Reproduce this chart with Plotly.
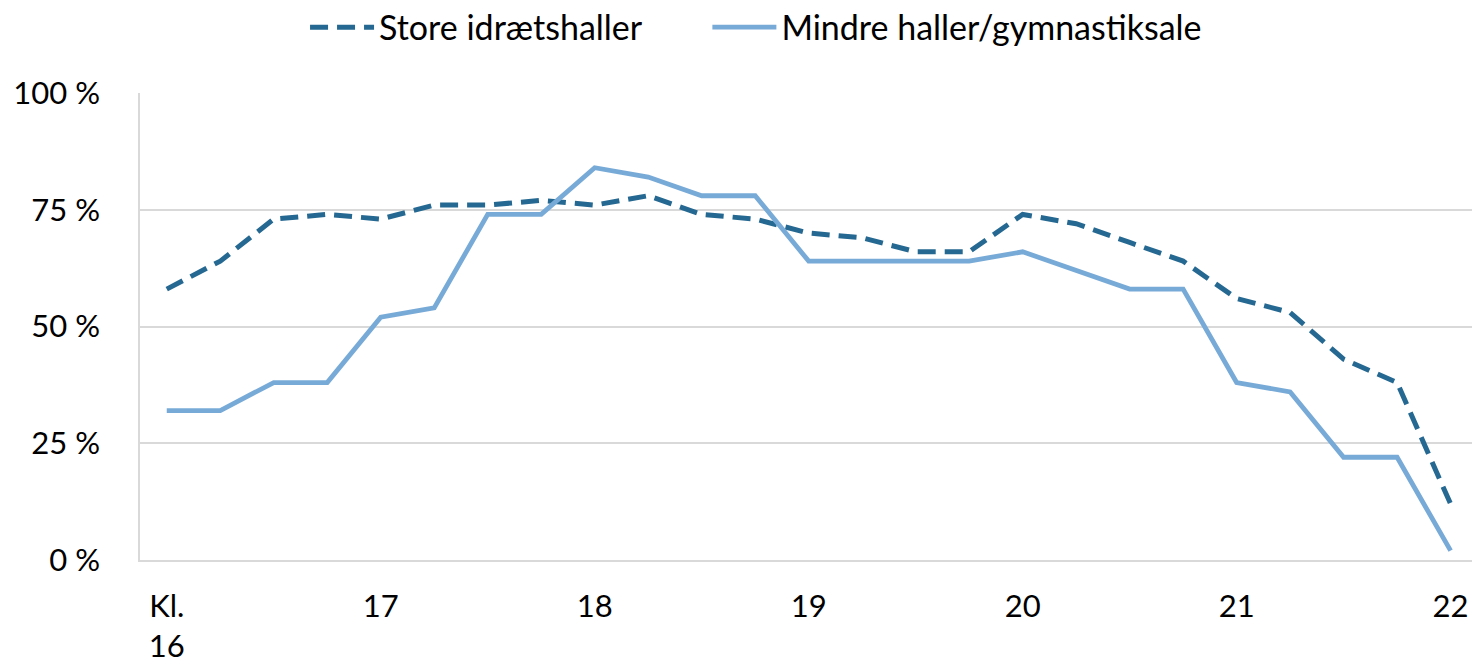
import plotly.graph_objects as go

times = ["16:00", "16:15", "16:30", "16:45", "17:00", "17:15", "17:30", "17:45",
         "18:00", "18:15", "18:30", "18:45", "19:00", "19:15", "19:30", "19:45",
         "20:00", "20:15", "20:30", "20:45", "21:00", "21:15", "21:30", "21:45", "22:00"]
store = [58, 64, 73, 74, 73, 76, 76, 77, 76, 78, 74, 73, 70, 69, 66, 66,
         74, 72, 68, 64, 56, 53, 43, 38, 12]
mindre = [32, 32, 38, 38, 52, 54, 74, 74, 84, 82, 78, 78, 64, 64, 64, 64,
          66, 62, 58, 58, 38, 36, 22, 22, 2]
tick_times = ["16:00", "17:00", "18:00", "19:00", "20:00", "21:00", "22:00"]
tick_labels = ["Kl.<br>16", "17", "18", "19", "20", "21", "22"]
y_ticks = [0, 25, 50, 75, 100]
y_labels = ["0 %", "25 %", "50 %", "75 %", "100 %"]
series_names = ["Store idrætshaller", "Mindre haller/gymnastiksale"]

FONT = "Lato, Carlito, Calibri, sans-serif"
SP = "\u00a0" * 7

fig = go.Figure()
fig.add_trace(go.Scatter(x=times, y=store, mode="lines", name=series_names[0] + SP,
                         line=dict(color="#256891", width=5, dash="18px,9px")))
fig.add_trace(go.Scatter(x=times, y=mindre, mode="lines", name=series_names[1],
                         line=dict(color="#78AAD7", width=4.8)))

fig.update_layout(
    width=1472, height=667,
    margin=dict(l=140, r=0, t=93, b=107, autoexpand=False),
    paper_bgcolor="white", plot_bgcolor="white",
    font=dict(family=FONT, size=31, color="#000000"),
    showlegend=True,
    legend=dict(orientation="h", x=0.4625, xanchor="center", y=1.14, yanchor="middle",
                yref="paper", font=dict(size=34), itemwidth=64,
                traceorder="normal"),
)
fig.update_xaxes(type="category", range=[-0.5, 24.4], automargin=False,
                 tickmode="array", tickvals=tick_times, ticktext=tick_labels,
                 showgrid=False, showline=True, linecolor="#D9D9D9", linewidth=1.5,
                 ticks="", ticklabelstandoff=18, tickfont=dict(size=31))
fig.update_yaxes(range=[0, 100], tickmode="array", tickvals=y_ticks, ticktext=y_labels,
                 automargin=False,
                 showgrid=True, gridcolor="#D9D9D9", gridwidth=1.5,
                 showline=True, linecolor="#D9D9D9", linewidth=1.5,
                 zeroline=False, ticks="", ticklabelstandoff=32, tickfont=dict(size=31))

fig.write_html("out.html", config={"displayModeBar": False},
               post_script="document.body.style.margin='0';document.body.style.overflow='hidden';")
